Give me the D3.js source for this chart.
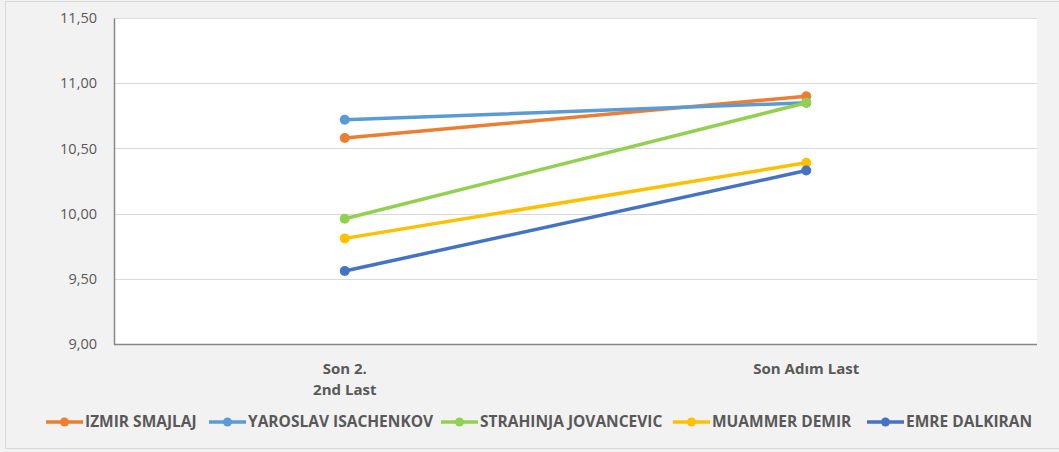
<!DOCTYPE html>
<html>
<head>
<meta charset="utf-8">
<script src="https://cdn.jsdelivr.net/npm/d3@7"></script>
<style>
  body { margin: 0; background: #fff; }
  svg { display: block; font-family: "Open Sans", "Noto Sans", sans-serif; }
</style>
</head>
<body>
<script>
var width = 1059,
    height = 452;

// data
var categories = ["Son 2.\n2nd Last", "Son Adım Last"];
var seriesNames = ["IZMIR SMAJLAJ", "YAROSLAV ISACHENKOV", "STRAHINJA JOVANCEVIC", "MUAMMER DEMIR", "EMRE DALKIRAN"];
var izmir = [10.58, 10.90];
var yaroslav = [10.72, 10.85];
var strahinja = [9.96, 10.85];
var muammer = [9.81, 10.39];
var emre = [9.56, 10.33];
var yTicks = [9.0, 9.5, 10.0, 10.5, 11.0, 11.5];

var colors = ["#ED7D31", "#5B9BD5", "#92D050", "#FFC000", "#4472C4"];
var series = [izmir, yaroslav, strahinja, muammer, emre].map(function(v, i) {
  return { name: seriesNames[i], values: v, color: colors[i] };
});

var plot = { left: 114, right: 1037, top: 18, bottom: 344 };

var svg = d3.select("body").append("svg").attr("width", width).attr("height", height);

// chart background + border
svg.append("rect").attr("width", width).attr("height", height).attr("fill", "#f2f2f2");
svg.append("rect")
    .attr("x", 5.5).attr("y", 1.5)
    .attr("width", width + 10).attr("height", 447)
    .attr("fill", "none").attr("stroke", "#d9d9d9").attr("stroke-width", 1);

svg.append("rect")
    .attr("x", plot.left).attr("y", plot.top)
    .attr("width", plot.right - plot.left).attr("height", plot.bottom - plot.top)
    .attr("fill", "#fff");

var x = d3.scaleBand().domain(categories).range([plot.left, plot.right]);
var y = d3.scaleLinear().domain([9, 11.5]).range([plot.bottom, plot.top]);
var cx = function(c) { return x(c) + x.bandwidth() / 2; };

// gridlines
svg.append("g").selectAll("line")
    .data(yTicks.filter(function(t) { return t > 9; }))
  .enter().append("line")
    .attr("x1", plot.left).attr("x2", plot.right)
    .attr("y1", function(d) { return Math.round(y(d)) + 0.5; })
    .attr("y2", function(d) { return Math.round(y(d)) + 0.5; })
    .attr("stroke", "#d9d9d9").attr("stroke-width", 1);

// axes
var fmt = function(d) { return d3.format(".2f")(d).replace(".", ","); };
var yAxis = svg.append("g")
    .attr("transform", "translate(" + plot.left + ",0)")
    .call(d3.axisLeft(y).tickValues(yTicks).tickFormat(fmt).tickSize(0).tickPadding(17));
yAxis.select(".domain").attr("stroke", "#868686").attr("stroke-width", 1.5);
yAxis.selectAll("text").attr("fill", "#595959").style("font-size", "14.5px")
    .style("font-family", "'Open Sans', sans-serif");

svg.append("line")
    .attr("x1", plot.left).attr("x2", plot.right)
    .attr("y1", plot.bottom + 0.5).attr("y2", plot.bottom + 0.5)
    .attr("stroke", "#868686").attr("stroke-width", 1.5);

// category labels
svg.append("g").selectAll("text")
    .data(categories)
  .enter().append("text")
    .attr("x", cx)
    .attr("y", 374)
    .attr("text-anchor", "middle")
    .attr("fill", "#595959")
    .style("font-size", "15px").style("font-weight", "bold")
    .each(function(d) {
      var t = d3.select(this);
      d.split("\n").forEach(function(line, i) {
        t.append("tspan").attr("x", cx(d)).attr("dy", i ? 21 : 0).text(line);
      });
    });

// lines + markers
var line = d3.line()
    .x(function(d, i) { return cx(categories[i]); })
    .y(function(d) { return y(d); });

var g = svg.append("g").selectAll("g").data(series).enter().append("g");
g.append("path")
    .attr("d", function(d) { return line(d.values); })
    .attr("fill", "none")
    .attr("stroke", function(d) { return d.color; })
    .attr("stroke-width", 3.5)
    .attr("stroke-linecap", "round");
g.selectAll("circle")
    .data(function(d) { return d.values.map(function(v, i) { return { v: v, i: i, color: d.color }; }); })
  .enter().append("circle")
    .attr("cx", function(d) { return cx(categories[d.i]); })
    .attr("cy", function(d) { return y(d.v); })
    .attr("r", 5)
    .attr("fill", function(d) { return d.color; });

// legend
var legendX = [46, 209, 441, 673, 867];
var legend = svg.append("g").selectAll("g")
    .data(series)
  .enter().append("g")
    .attr("transform", function(d, i) { return "translate(" + legendX[i] + ",422)"; });
legend.append("line")
    .attr("x1", 0).attr("x2", 37)
    .attr("stroke", function(d) { return d.color; })
    .attr("stroke-width", 3.5);
legend.append("circle")
    .attr("cx", 18.5).attr("r", 4.5)
    .attr("fill", function(d) { return d.color; });
legend.append("text")
    .attr("x", 39).attr("dy", "0.35em")
    .attr("fill", "#595959")
    .style("font-size", "15.5px").style("font-weight", "bold")
    .text(function(d) { return d.name; });
</script>
</body>
</html>
